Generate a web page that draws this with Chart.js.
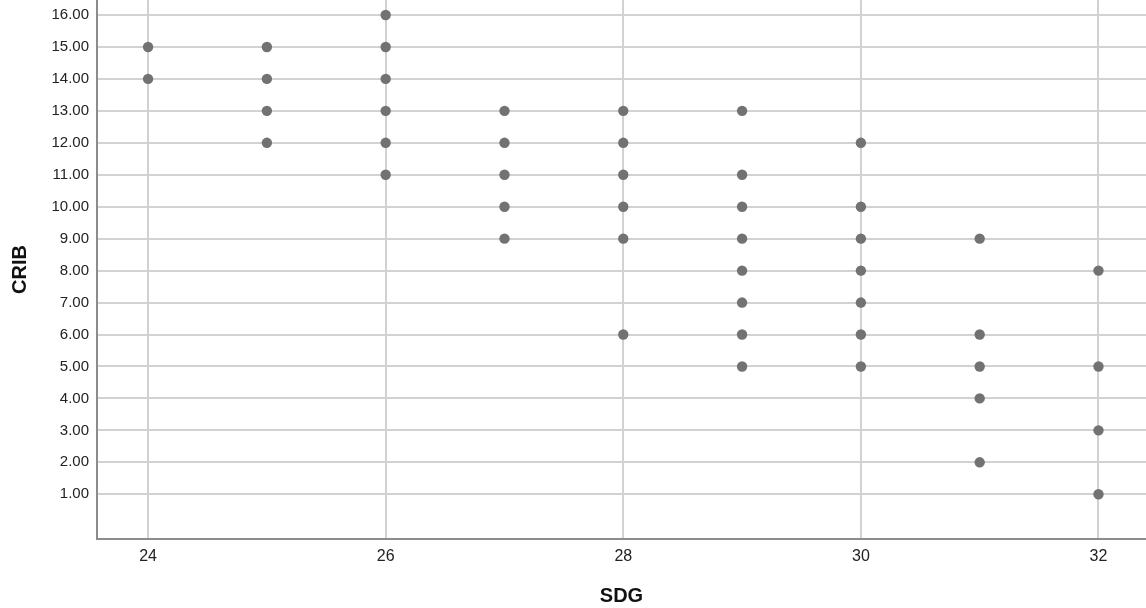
<!DOCTYPE html>
<html>
<head>
<meta charset="utf-8">
<script src="https://cdn.jsdelivr.net/npm/chart.js@4/dist/chart.umd.min.js"></script>
<style>
  html, body { margin: 0; padding: 0; background: #fff; }
  #wrap { width: 1146px; height: 608px; }
</style>
</head>
<body>
<div id="wrap"><canvas id="grafico"></canvas></div>
<script>
// SDG values, one per point
var sdg = [24,24, 25,25,25,25, 26,26,26,26,26,26, 27,27,27,27,27,
           28,28,28,28,28,28, 29,29,29,29,29,29,29,29,
           30,30,30,30,30,30,30, 31,31,31,31,31, 32,32,32,32];
// CRIB values, same order
var crib = [15,14, 15,14,13,12, 16,15,14,13,12,11, 13,12,11,10,9,
            13,12,11,10,9,6, 13,11,10,9,8,7,6,5,
            12,10,9,8,7,6,5, 9,6,5,4,2, 8,5,3,1];
var xTicks = [24, 26, 28, 30, 32];
var yTicks = [1,2,3,4,5,6,7,8,9,10,11,12,13,14,15,16];

var puntos = sdg.map(function (v, i) { return { x: v, y: crib[i] }; });

Chart.defaults.font.family = "'Liberation Sans', Arial, sans-serif";
Chart.defaults.color = '#222';

function sinPadding(s) {
  s.paddingTop = 0; s.paddingBottom = 0; s.paddingLeft = 0; s.paddingRight = 0;
}

new Chart(document.getElementById('grafico'), {
  type: 'scatter',
  data: {
    datasets: [{
      data: puntos,
      backgroundColor: '#727272',
      borderColor: '#727272',
      borderWidth: 0,
      pointRadius: 5.2,
      pointHoverRadius: 5.2
    }]
  },
  options: {
    responsive: true,
    maintainAspectRatio: false,
    animation: false,
    layout: { padding: 0, autoPadding: false },
    plugins: { legend: { display: false }, tooltip: { enabled: false } },
    scales: {
      x: {
        type: 'linear',
        min: 23.57,
        max: 32.4,
        afterBuildTicks: function (s) { s.ticks = xTicks.map(function (v) { return { value: v }; }); },
        afterFit: function (s) { s.height = 69; sinPadding(s); },
        ticks: { padding: 8, font: { size: 16 }, color: '#222' },
        grid: { color: '#d2d2d2', lineWidth: 2, drawTicks: false },
        border: { color: '#8c8c8c', width: 2 },
        title: { display: true, text: 'SDG', font: { size: 20, weight: 'bold' }, color: '#111', padding: { top: 0, bottom: 0 } }
      },
      y: {
        type: 'linear',
        min: -0.4,
        max: 16.47,
        afterBuildTicks: function (s) { s.ticks = yTicks.map(function (v) { return { value: v }; }); },
        afterFit: function (s) { s.width = 97; sinPadding(s); },
        ticks: {
          padding: 8, font: { size: 15 }, color: '#222',
          callback: function (v) { return Number(v).toFixed(2); }
        },
        grid: { color: '#d2d2d2', lineWidth: 2, drawTicks: false },
        border: { color: '#8c8c8c', width: 2 },
        title: { display: true, text: 'CRIB', font: { size: 20, weight: 'bold' }, color: '#111', padding: { top: 8, bottom: 0 } }
      }
    }
  }
});
</script>
</body>
</html>
